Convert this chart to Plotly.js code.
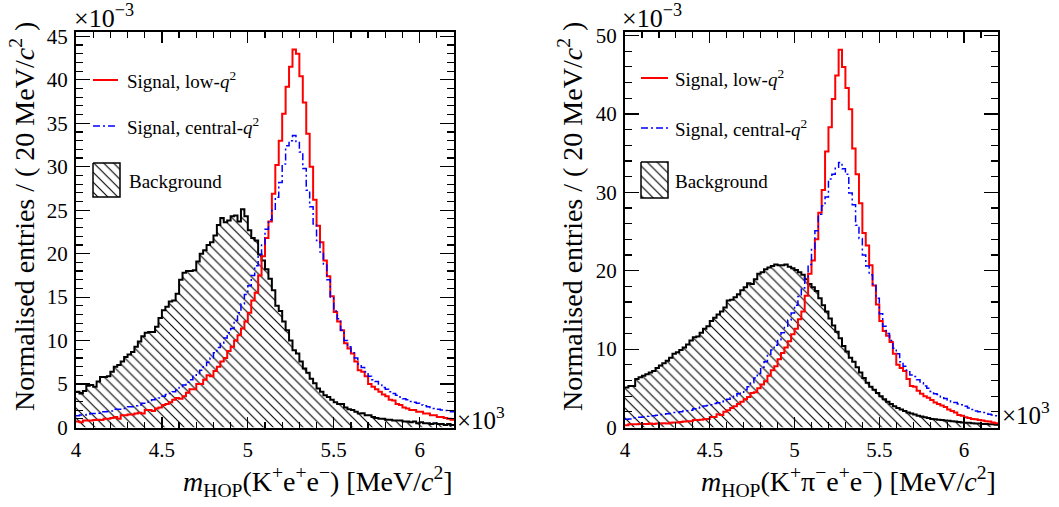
<!DOCTYPE html>
<html><head><meta charset="utf-8">
<script src="https://cdn.plot.ly/plotly-3.0.1.min.js"></script>
<style>html,body{margin:0;padding:0;background:#fff}#chart{width:1059px;height:507px}</style>
</head><body><div id="chart"></div>
<script>
// Histogram binning: 4000–6200 MeV/c^2, 20 MeV bins (110 bins). Values in units of 10^-3.
const massLow = 4000, binWidth = 20, nBins = 110;
const xTickVals = [4000, 4500, 5000, 5500, 6000];
const xTickText = ['4', '4.5', '5', '5.5', '6'];
const yTicksKee = [0, 5, 10, 15, 20, 25, 30, 35, 40, 45];
const yTicksKpiee = [0, 10, 20, 30, 40, 50];

// Left panel: K+ e+ e-
const bkgKee = [4.1,3.9,4.2,4.8,4.9,4.7,5.3,5.8,5.8,5.9,6.4,7.0,7.2,7.6,8.1,8.4,8.7,9.3,9.9,10.5,
10.9,11.0,11.0,11.6,12.6,13.5,13.9,14.5,14.6,15.4,17.0,17.8,18.0,18.0,18.1,19.1,20.0,20.4,21.0,21.3,
22.1,23.3,24.1,23.6,23.8,24.3,24.4,23.7,25.1,24.3,22.7,21.8,21.5,19.9,19.2,18.2,17.1,15.8,14.0,13.4,
12.2,11.2,10.0,8.9,8.5,7.6,6.8,6.3,5.6,5.1,4.5,4.1,3.7,3.5,3.2,2.9,2.7,2.7,2.3,2.1,
2.0,1.8,1.6,1.65,1.4,1.4,1.2,1.1,1.0,1.0,0.9,0.9,0.8,0.8,0.8,0.7,0.7,0.6,0.7,0.5,
0.6,0.5,0.5,0.4,0.5,0.4,0.4,0.3,0.4,0.3];
const lowKee = [0.7,0.6,0.8,0.8,0.8,0.85,0.9,0.85,1.0,1.0,1.1,1.2,1.0,1.4,1.4,1.5,1.5,1.6,1.7,1.6,
2.0,2.0,1.9,2.2,2.3,2.6,2.7,2.9,3.2,3.4,3.3,3.6,4.0,4.4,4.4,5.0,5.0,5.5,6.0,5.9,
6.5,7.0,7.6,8.0,8.8,9.3,10.0,10.6,11.4,12.2,13.2,14.6,15.5,17.5,19.7,21.8,23.7,26.9,30.2,33.0,
36.1,39.2,41.5,43.5,43.0,40.4,37.4,33.8,30.0,26.2,23.2,21.3,19.2,17.4,15.1,13.3,12.2,11.2,9.7,9.1,
8.5,7.6,6.6,6.4,5.9,5.0,4.7,4.4,4.1,3.8,3.6,3.2,3.1,2.7,2.6,2.3,2.2,2.0,2.0,1.8,
1.8,1.6,1.6,1.4,1.4,1.2,1.2,1.1,1.0,0.9];
const centralKee = [1.35,1.45,1.45,1.5,1.6,1.6,1.65,1.8,1.8,1.85,1.9,2.1,2.1,2.2,2.2,2.4,2.4,2.5,2.6,2.8,
2.9,3.0,3.2,3.3,3.4,3.6,3.8,3.9,4.1,4.3,4.6,4.9,5.2,5.5,5.9,6.2,6.6,7.0,7.5,8.0,
8.6,9.2,9.7,10.3,10.9,11.4,12.3,13.2,14.2,15.3,16.3,17.5,18.6,19.9,21.0,22.8,23.9,25.0,26.5,28.2,
30.3,32.4,33.0,33.6,32.9,31.7,29.8,27.3,25.4,23.4,21.5,20.2,18.8,17.0,14.9,13.4,12.5,11.2,10.0,9.3,
8.6,8.0,7.3,6.9,6.4,5.9,5.5,5.3,4.9,4.6,4.4,4.1,3.9,3.7,3.5,3.3,3.2,3.0,2.9,2.8,
2.6,2.5,2.4,2.3,2.2,2.1,2.0,1.95,1.85,1.8];

// Right panel: K+ pi- e+ e-
const bkgKpiee = [5.1,5.3,5.3,6.2,6.4,6.6,6.8,7.0,7.2,7.6,7.9,8.2,8.5,8.9,9.4,9.6,9.9,10.2,10.6,11.1,
11.5,11.6,12.1,12.6,12.9,13.6,14.0,14.4,14.8,15.3,16.2,16.3,16.6,17.0,17.5,17.9,18.4,18.3,18.9,19.6,
19.8,20.2,20.4,20.6,20.8,20.7,20.7,20.8,20.5,20.3,20.1,19.8,19.5,18.9,18.3,17.9,17.4,16.5,15.6,14.8,
13.9,13.0,12.2,11.4,10.4,9.7,8.9,8.4,7.7,7.0,6.3,5.7,5.2,4.8,4.4,4.0,3.6,3.3,3.0,2.7,
2.5,2.3,2.1,1.9,1.8,1.65,1.5,1.4,1.3,1.2,1.1,1.05,1.0,0.95,0.9,0.85,0.8,0.75,0.7,0.65,
0.6,0.6,0.55,0.5,0.5,0.45,0.45,0.4,0.4,0.35];
const lowKpiee = [0.3,0.4,0.4,0.4,0.45,0.45,0.45,0.5,0.45,0.5,0.5,0.55,0.5,0.6,0.65,0.65,0.7,0.75,0.8,0.8,
0.95,0.95,1.0,1.05,1.1,1.35,1.35,1.7,1.6,2.0,2.2,2.5,2.7,3.0,3.3,3.6,3.9,4.4,4.5,5.0,
5.5,5.9,6.6,7.3,7.8,8.7,9.5,10.2,11.0,11.9,12.6,13.8,14.8,16.8,19.6,21.3,24.0,27.4,30.3,35.2,
38.3,41.9,44.9,48.2,46.0,43.3,40.6,35.6,32.3,28.6,24.8,23.2,20.7,18.1,15.7,13.6,12.3,11.7,10.9,9.4,
8.0,7.6,7.2,6.2,5.3,5.2,4.7,4.3,4.0,3.8,3.5,3.2,3.0,2.8,2.6,2.3,2.1,1.9,1.6,1.5,
1.3,1.2,1.1,1.05,0.95,0.9,0.8,0.75,0.65,0.55];
const centralKpiee = [1.05,1.1,1.25,1.3,1.3,1.35,1.45,1.5,1.5,1.55,1.65,1.7,1.75,1.8,1.9,1.9,2.0,2.1,2.15,2.2,
2.4,2.5,2.6,2.75,2.8,2.9,3.05,3.15,3.3,3.4,3.6,3.8,4.0,4.3,4.5,4.8,5.2,5.7,6.3,6.9,
7.7,8.4,9.2,9.9,10.5,11.2,12.1,12.9,13.7,14.6,15.6,16.7,17.8,19.1,20.8,22.8,25.1,27.2,28.3,29.4,
31.7,32.3,33.2,33.8,33.0,32.3,29.9,28.4,25.8,24.1,22.0,20.6,19.5,18.3,16.5,14.5,12.9,12.0,11.1,10.1,
9.4,8.4,7.8,7.1,6.7,6.5,6.1,5.7,5.3,5.0,4.6,4.3,4.2,3.9,3.7,3.5,3.3,3.2,3.0,2.9,
2.7,2.5,2.3,2.1,2.0,1.9,1.8,1.7,1.6,1.5];

const W = 1059, H = 507;
const px = p => p / W;
const py = p => 1 - p / H;

const edges = [];
for (let i = 0; i <= nBins; i++) edges.push(massLow + i * binWidth);
const stepY = v => v.concat([v[v.length - 1]]);

const FONT = 'Liberation Serif, Times New Roman, serif';
const HATCH = { shape: '\\', fgcolor: 'black', bgcolor: 'rgba(255,255,255,0)', size: 7, solidity: 0.16 };
const DASHDOT = '7px,3px,2px,3px';

function panelTraces(bkg, low, central, xa, ya) {
  return [
    { type: 'scatter', mode: 'lines', x: edges, y: stepY(bkg), xaxis: xa, yaxis: ya,
      line: { shape: 'hv', color: 'black', width: 2 }, fill: 'tozeroy', fillcolor: 'rgba(0,0,0,0)',
      fillpattern: HATCH, hoverinfo: 'skip', showlegend: false },
    { type: 'scatter', mode: 'lines', x: edges, y: stepY(low), xaxis: xa, yaxis: ya,
      line: { shape: 'hv', color: '#ff0000', width: 2 }, hoverinfo: 'skip', showlegend: false },
    { type: 'scatter', mode: 'lines', x: edges, y: stepY(central), xaxis: xa, yaxis: ya,
      line: { shape: 'hv', color: '#0000ff', width: 1.5, dash: DASHDOT }, hoverinfo: 'skip', showlegend: false }
  ];
}

// legend swatch boxes (hatched), drawn in a pixel-coordinate overlay
const swatchLeft = [93, 120, 163, 197];
const swatchRight = [641, 668, 162, 198];
function swatch(b) {
  return { type: 'scatter', mode: 'lines', xaxis: 'x3', yaxis: 'y3',
    x: [b[0], b[1], b[1], b[0], b[0]], y: [b[2], b[2], b[3], b[3], b[2]],
    fill: 'toself', fillcolor: 'rgba(0,0,0,0)', fillpattern: HATCH,
    line: { color: 'black', width: 1.5 }, hoverinfo: 'skip', showlegend: false };
}

const data = [
  ...panelTraces(bkgKee, lowKee, centralKee, 'x', 'y'),
  ...panelTraces(bkgKpiee, lowKpiee, centralKpiee, 'x2', 'y2'),
  swatch(swatchLeft), swatch(swatchRight)
];

function xAxis(domain, anchor) {
  return { domain: domain, anchor: anchor, range: [massLow, massLow + nBins * binWidth],
    tickmode: 'array', tickvals: xTickVals, ticktext: xTickText,
    ticks: 'inside', ticklen: 11, tickwidth: 1.2, tickcolor: 'black',
    minor: { tickmode: 'linear', tick0: massLow, dtick: 100, ticks: 'inside', ticklen: 6, tickwidth: 1.2, tickcolor: 'black' },
    showline: true, linecolor: 'black', linewidth: 2, mirror: 'allticks',
    showgrid: false, zeroline: false, ticklabelstandoff: 2,
    tickfont: { family: FONT, size: 21, color: 'black' }, fixedrange: true };
}
function yAxis(range, vals, minorD, anchor) {
  return { domain: [py(427.5), py(32)], anchor: anchor, range: range,
    tickmode: 'array', tickvals: vals, ticktext: vals.map(String),
    ticks: 'inside', ticklen: 14, tickwidth: 1.2, tickcolor: 'black',
    minor: { tickmode: 'linear', tick0: 0, dtick: minorD, ticks: 'inside', ticklen: 7, tickwidth: 1.2, tickcolor: 'black' },
    showline: true, linecolor: 'black', linewidth: 2, mirror: 'allticks',
    showgrid: false, zeroline: false, ticklabelstandoff: 2,
    tickfont: { family: FONT, size: 21, color: 'black' }, fixedrange: true };
}

const ytitle = 'Normalised entries / ( 20 MeV/<i>c</i><sup>2</sup> )';
const ann = (text, x, y, size, opts) => Object.assign({ text: text, x: px(x), y: py(y), xref: 'paper', yref: 'paper',
  showarrow: false, font: { family: FONT, size: size, color: 'black' } }, opts || {});

const annotations = [
  ann(ytitle, 23, 217, 28, { textangle: -90, xanchor: 'center', yanchor: 'middle' }),
  ann(ytitle, 571, 217, 28, { textangle: -90, xanchor: 'center', yanchor: 'middle' }),
  ann('<i>m</i><sub>HOP</sub>(K<sup>+</sup>e<sup>+</sup>e<sup>−</sup>) [MeV/<i>c</i><sup>2</sup>]', 455, 481, 28, { xanchor: 'right', yanchor: 'middle' }),
  ann('<i>m</i><sub>HOP</sub>(K<sup>+</sup>π<sup>−</sup>e<sup>+</sup>e<sup>−</sup>) [MeV/<i>c</i><sup>2</sup>]', 998, 481, 28, { xanchor: 'right', yanchor: 'middle' }),
  ann('×10<sup>−3</sup>', 72, 17, 26, { xanchor: 'left', yanchor: 'middle' }),
  ann('×10<sup>−3</sup>', 620, 17, 26, { xanchor: 'left', yanchor: 'middle' }),
  ann('×10<sup>3</sup>', 455, 418, 25, { xanchor: 'left', yanchor: 'middle' }),
  ann('×10<sup>3</sup>', 1000, 413, 25, { xanchor: 'left', yanchor: 'middle' }),
  ann('Signal, low-<i>q</i><sup>2</sup>', 125, 80, 19, { xanchor: 'left', yanchor: 'middle' }),
  ann('Signal, central-<i>q</i><sup>2</sup>', 125, 126, 19, { xanchor: 'left', yanchor: 'middle' }),
  ann('Background', 127, 181, 19, { xanchor: 'left', yanchor: 'middle' }),
  ann('Signal, low-<i>q</i><sup>2</sup>', 673, 78, 19, { xanchor: 'left', yanchor: 'middle' }),
  ann('Signal, central-<i>q</i><sup>2</sup>', 673, 128, 19, { xanchor: 'left', yanchor: 'middle' }),
  ann('Background', 673, 181, 19, { xanchor: 'left', yanchor: 'middle' })
];

const lineShape = (x0, x1, y, color, dash, w) => ({ type: 'line', xref: 'paper', yref: 'paper',
  x0: px(x0), x1: px(x1), y0: py(y), y1: py(y), line: { color: color, width: w, dash: dash } });
const shapes = [
  lineShape(93, 118, 80, '#ff0000', 'solid', 2),
  lineShape(93, 118, 126, '#0000ff', DASHDOT, 1.5),
  lineShape(641, 668, 78, '#ff0000', 'solid', 2),
  lineShape(641, 668, 128, '#0000ff', DASHDOT, 1.5)
];

const layout = {
  width: W, height: H, margin: { l: 0, r: 0, t: 0, b: 0 },
  paper_bgcolor: 'white', plot_bgcolor: 'rgba(0,0,0,0)', showlegend: false,
  font: { family: FONT, color: 'black' },
  xaxis: xAxis([px(76), px(454)], 'y'),
  yaxis: yAxis([0, 45.5], yTicksKee, 1, 'x'),
  xaxis2: xAxis([px(625), px(998)], 'y2'),
  yaxis2: yAxis([0, 50.45], yTicksKpiee, 2, 'x2'),
  xaxis3: { domain: [0, 1], range: [0, W], visible: false, anchor: 'y3', fixedrange: true },
  yaxis3: { domain: [0, 1], range: [H, 0], visible: false, anchor: 'x3', fixedrange: true },
  annotations: annotations, shapes: shapes
};

Plotly.newPlot('chart', data, layout, { displayModeBar: false, staticPlot: true });
</script></body></html>
